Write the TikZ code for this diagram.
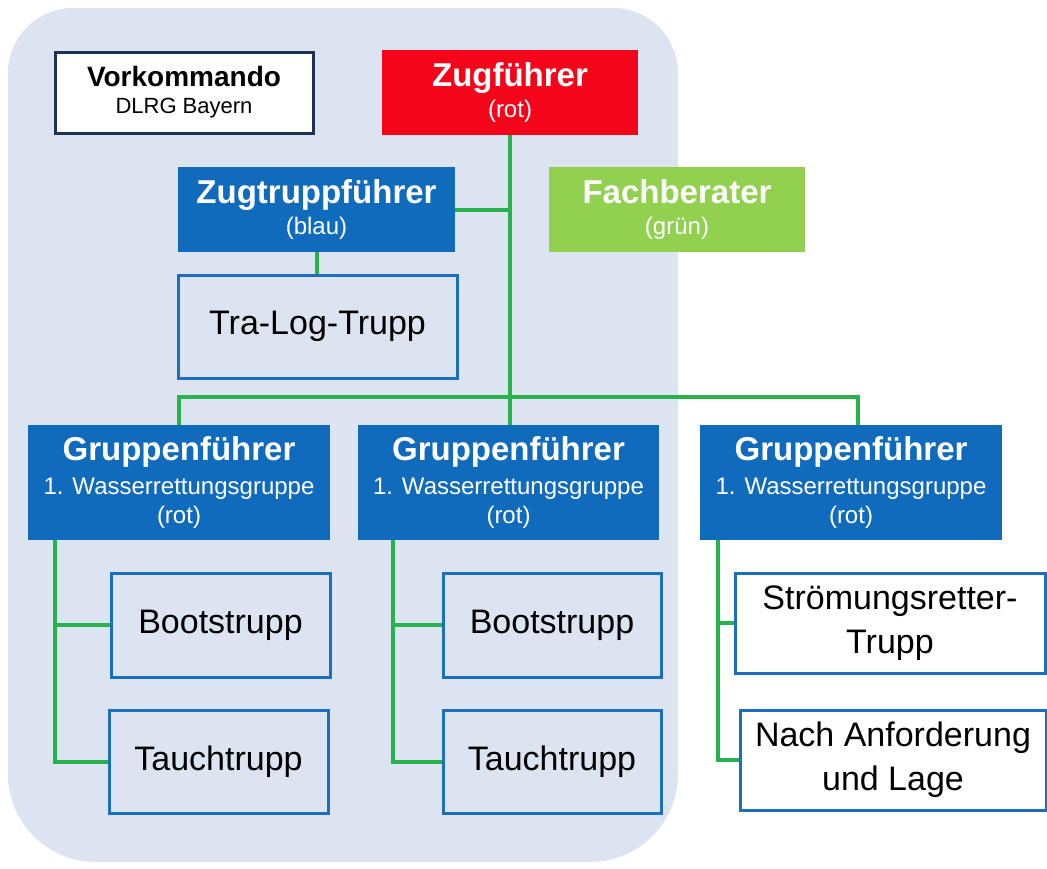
\documentclass[tikz,border=0pt]{standalone}
\usepackage{fontspec}
\setmainfont{Liberation Sans}
\usepackage{tikz}
\usetikzlibrary{positioning}
\usepackage{xcolor}
\definecolor{bgblue}{RGB}{219,228,240}
\definecolor{leadblue}{RGB}{17,107,189}
\definecolor{leadred}{RGB}{245,5,25}
\definecolor{leadgreen}{RGB}{146,208,80}
\definecolor{linegreen}{RGB}{40,178,75}
\definecolor{unitblue}{RGB}{28,110,190}
\definecolor{navy}{RGB}{30,50,85}
\newcommand{\ttl}{\fontsize{33}{36}\selectfont\bfseries}
\newcommand{\sub}{\fontsize{24}{30}\selectfont}
\newcommand{\unt}{\fontsize{34}{44}\selectfont}

\begin{document}
\begin{tikzpicture}[
  x=1pt, y=-1pt,
  lead/.style={fill=leadblue, text=white, align=center, inner sep=0pt, font=\sub},
  unit/.style={draw=unitblue, line width=3pt, align=center, inner sep=0pt, font=\unt},
  conn/.style={draw=linegreen, line width=4pt}
]
\useasboundingbox (0,0) rectangle (1047,868);
\fill[bgblue] (8,430) [rounded corners=65pt] -- (8,8) -- (678,8) -- (678,430) [rounded corners=88pt] -- (678,862) -- (8,862) -- cycle;

\node[draw=navy, line width=3pt, fill=white, align=center, minimum width=258pt, minimum height=81pt, inner sep=0pt, font=\fontsize{22}{27}\selectfont] (vork) at (184,92.5) {{\fontsize{28}{32}\selectfont\bfseries Vorkommando}\\DLRG Bayern};
\node[lead, fill=leadred, minimum width=256pt, minimum height=85pt] (zugf) at (510,92.5) {{\ttl Zugführer}\\[1pt](rot)};
\node[lead, minimum width=277pt, minimum height=85pt] (ztf) at (316.5,209.5) {{\ttl Zugtruppführer}\\[1pt](blau)};
\node[lead, fill=leadgreen, minimum width=256pt, minimum height=85pt] (fachb) at (677,209.5) {{\ttl Fachberater}\\[1pt](grün)};
\node[unit, minimum width=279pt, minimum height=103pt] (tralog) at (317.5,326.5) {Tra-Log-Trupp};

\node[lead, minimum width=302pt, minimum height=115pt] (gf1) at (179,482.5) {{\ttl Gruppenführer}\\[4pt]1. Wasserrettungsgruppe\\[-1pt](rot)};
\node[lead, minimum width=301pt, minimum height=115pt] (gf2) at (508.5,482.5) {{\ttl Gruppenführer}\\[4pt]1. Wasserrettungsgruppe\\[-1pt](rot)};
\node[lead, minimum width=302pt, minimum height=115pt] (gf3) at (851,482.5) {{\ttl Gruppenführer}\\[4pt]1. Wasserrettungsgruppe\\[-1pt](rot)};

\node[unit, minimum width=219pt, minimum height=104pt] (boot1) at (220.5,625) {Bootstrupp};
\node[unit, minimum width=219pt, minimum height=103pt] (tauch1) at (218.5,761.5) {Tauchtrupp};
\node[unit, minimum width=218pt, minimum height=104pt] (boot2) at (552,625) {Bootstrupp};
\node[unit, minimum width=218pt, minimum height=103pt] (tauch2) at (552,761.5) {Tauchtrupp};
\node[unit, fill=white, minimum width=310pt, minimum height=100pt] (stroem) at (890,623) {Strömungsretter-\\Trupp};
\node[unit, fill=white, minimum width=306pt, minimum height=100pt] (nach) at (893,760) {Nach Anforderung\\und Lage};

\coordinate (bus) at (510,397);
\coordinate (s1) at ([xshift=27pt]gf1.south west);
\coordinate (s2) at ([xshift=35pt]gf2.south west);
\coordinate (s3) at ([xshift=18pt]gf3.south west);

\draw[conn] (zugf.south) -- (zugf.south |- gf2.north);
\draw[conn] (ztf.east) -- (ztf.east -| zugf.south);
\draw[conn] (ztf.south) -- (ztf.south |- tralog.north);
\draw[conn] (gf1.north) |- (bus) -| ([xshift=7pt]gf3.north);
\draw[conn] (s1) |- (tauch1.west);
\draw[conn] (s1 |- boot1.west) -- (boot1.west);
\draw[conn] (s2) |- (tauch2.west);
\draw[conn] (s2 |- boot2.west) -- (boot2.west);
\draw[conn] (s3) |- (nach.west);
\draw[conn] (s3 |- stroem.west) -- (stroem.west);
\end{tikzpicture}
\end{document}
